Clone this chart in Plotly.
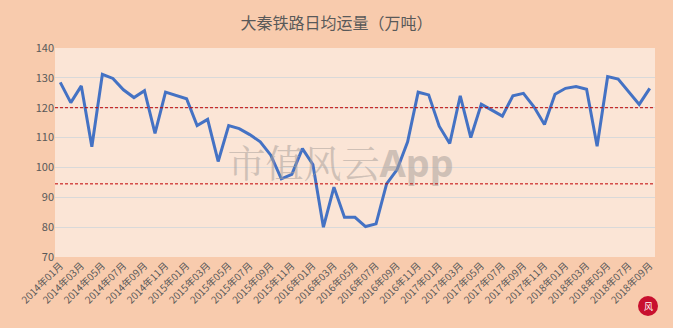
import plotly.graph_objects as go

months = [f"{y}年{m:02d}月" for y in range(2014, 2019) for m in range(1, 13)][:57]
values = [128.5, 121.7, 127.3, 106.9, 131.2, 129.8, 126.0, 123.4, 125.7, 111.4,
          125.2, 124.2, 123.0, 114.0, 116.1, 102.0, 114.0, 113.0, 111.0, 108.6,
          104.1, 96.2, 97.7, 106.3, 101.0, 80.0, 93.4, 83.3, 83.3, 80.2,
          81.1, 94.5, 99.3, 108.6, 125.2, 124.3, 113.8, 108.0, 124.0, 110.0,
          121.2, 119.2, 117.2, 124.0, 124.8, 120.3, 114.4, 124.5, 126.5, 127.1,
          126.2, 107.1, 130.4, 129.6, 125.4, 121.1, 126.5]
upper_line = 120
lower_line = 94.5
tick_labels = months[::2]

fig = go.Figure()
# watermark below the line
fig.add_trace(go.Scatter(x=[0.476], y=[0.43], xaxis="x2", yaxis="y2", mode="text",
                         text=["市值风云<span style='font-family:Noto Sans'><b>App</b></span>"],
                         textposition="middle center",
                         textfont=dict(family="Noto Serif CJK SC, Noto Sans CJK SC", size=38,
                                       color="rgba(170,160,155,0.55)"),
                         showlegend=False, hoverinfo="skip"))
fig.add_trace(go.Scatter(x=months, y=values, mode="lines",
                         line=dict(color="#4472C4", width=3), showlegend=False,
                         hoverinfo="skip"))
for lv in (upper_line, lower_line):
    fig.add_shape(type="line", xref="paper", x0=0, x1=1, yref="y", y0=lv, y1=lv,
                  line=dict(color="#C00000", width=1, dash="3px,2px"))

# logo
fig.add_shape(type="circle", xref="paper", yref="paper",
              x0=(638-55)/600, x1=(658-55)/600, y0=(257-316)/209, y1=(257-296)/209,
              fillcolor="#C8102E", line=dict(width=0))
fig.add_annotation(text="风", xref="paper", yref="paper",
                   x=(648-55)/600, y=(257-306)/209, xanchor="center", yanchor="middle",
                   showarrow=False,
                   font=dict(family="Noto Sans CJK SC", size=9, color="white"))

fig.update_layout(
    width=673, height=328,
    margin=dict(l=55, r=18, t=48, b=71),
    paper_bgcolor="#F8CBAD", plot_bgcolor="#FBE5D6",
    title=dict(text="大秦铁路日均运量（万吨）", x=0.5, xanchor="center", y=0.93, yanchor="middle",
               font=dict(family="Noto Sans CJK SC", size=16, color="#595959")),
    font=dict(family="Noto Sans CJK SC", color="#595959", size=11),
    xaxis2=dict(overlaying="x", range=[0, 1], visible=False),
    yaxis2=dict(overlaying="y", range=[0, 1], visible=False),
    xaxis=dict(type="category", range=[-0.5, 56.5], tickmode="array",
               tickvals=tick_labels, ticktext=tick_labels, tickangle=-45,
               showgrid=False, showline=False, ticks="",
               tickfont=dict(size=10, color="#595959")),
    yaxis=dict(range=[70, 140], dtick=10, showgrid=True, gridcolor="#D9D9D9",
               gridwidth=1, zeroline=False, showline=False, ticks="",
               tickfont=dict(size=11, color="#595959")),
)

fig.write_html("out.html")
